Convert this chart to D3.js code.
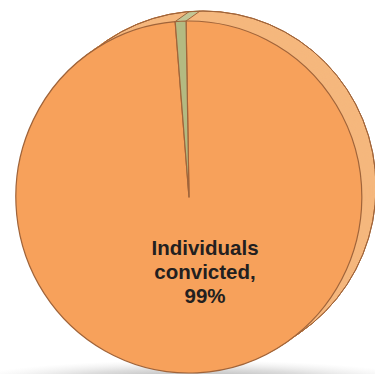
<!DOCTYPE html>
<html lang="en">
<head>
<meta charset="utf-8">
<title>pie</title>
<script src="https://d3js.org/d3.v7.min.js"></script>
<style>
  body { margin: 0; background: #fff; }
  svg { display: block; }
</style>
</head>
<body>
<svg id="chart"></svg>
<script>
const categories = ['Individuals convicted', 'Other'],
  values = [99, 1],
  labelLines = ['Individuals', 'convicted,', '99%'];

const width = 375, height = 374,
  cx = 189, cy = 197, rx = 173, ry = 176,
  depthX = 14, depthY = -10,
  faceColors = ['#F7A15B', '#B3BA82'],
  sideColors = ['#F5B87D', '#C3C796'],
  strokeColor = '#A0643A';

const svg = d3.select('#chart')
  .attr('width', width)
  .attr('height', height);

// soft shadow under the pie
const defs = svg.append('defs');
const grad = defs.append('radialGradient').attr('id', 'shadow');
grad.append('stop').attr('offset', 0).attr('stop-color', '#888').attr('stop-opacity', 0.9);
grad.append('stop').attr('offset', 0.6).attr('stop-color', '#bbb').attr('stop-opacity', 0.5);
grad.append('stop').attr('offset', 1).attr('stop-color', '#ddd').attr('stop-opacity', 0);
svg.append('ellipse')
  .attr('cx', 195).attr('cy', 382)
  .attr('rx', 230).attr('ry', 22)
  .style('fill', 'url(#shadow)');

const a0 = -0.017;
const pie = d3.pie().sort(null).startAngle(a0).endAngle(a0 + 2 * Math.PI);
const arcs = pie(values);
const arc = d3.arc().innerRadius(0).outerRadius(1);

const layer = (off) => `translate(${cx + depthX * off},${cy + depthY * off}) scale(${rx},${ry})`;

// extruded side, back to front
const steps = 30;
for (let s = steps; s >= 1; s--) {
  svg.append('g')
    .attr('transform', layer(s / steps))
    .selectAll('path')
    .data(arcs)
    .join('path')
    .attr('d', arc)
    .attr('fill', (d, i) => sideColors[i])
    .attr('stroke', (d, i) => sideColors[i])
    .attr('stroke-width', 0.8)
    .attr('vector-effect', 'non-scaling-stroke');
}

// back rim outline
svg.append('g')
  .attr('transform', layer(1))
  .append('path')
  .attr('d', d3.arc().innerRadius(1).outerRadius(1).startAngle(0).endAngle(2 * Math.PI)())
  .attr('fill', 'none')
  .attr('stroke', strokeColor)
  .attr('stroke-width', 1)
  .attr('vector-effect', 'non-scaling-stroke');

// edges of the slices running along the side
const rim = (a, off) => [cx + depthX * off + rx * Math.sin(a), cy + depthY * off - ry * Math.cos(a)];
arcs.forEach((d) => {
  svg.append('line')
    .attr('x1', rim(d.startAngle, 0)[0]).attr('y1', rim(d.startAngle, 0)[1])
    .attr('x2', rim(d.startAngle, 1)[0]).attr('y2', rim(d.startAngle, 1)[1])
    .attr('stroke', strokeColor)
    .attr('stroke-width', 1);
});

// front face
svg.append('g')
  .attr('transform', layer(0))
  .selectAll('path')
  .data(arcs)
  .join('path')
  .attr('d', arc)
  .attr('fill', (d, i) => faceColors[i])
  .attr('stroke', strokeColor)
  .attr('stroke-width', 1.2)
  .attr('stroke-linejoin', 'round')
  .attr('vector-effect', 'non-scaling-stroke');

// label of the big slice
svg.append('g')
  .selectAll('text')
  .data(labelLines)
  .join('text')
  .attr('x', 205)
  .attr('y', (d, i) => 255 + i * 24)
  .attr('text-anchor', 'middle')
  .style('font-family', '"Liberation Sans", Arial, sans-serif')
  .style('font-weight', 'bold')
  .style('font-size', '20.5px')
  .style('fill', '#231f20')
  .text((d) => d);
</script>
</body>
</html>
